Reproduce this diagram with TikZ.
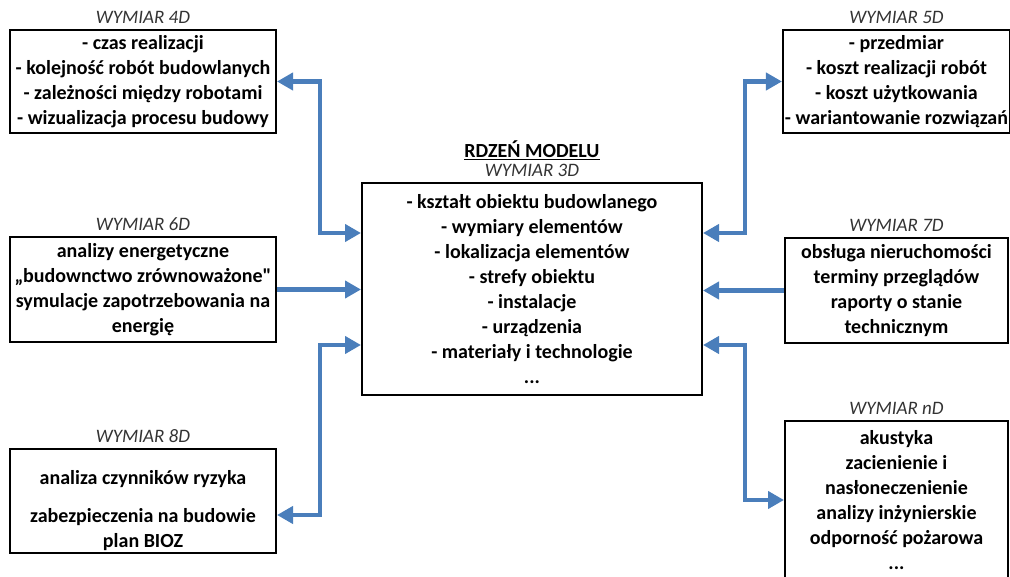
\documentclass[tikz,border=0pt]{standalone}
\usepackage{fontspec}
\setmainfont{Carlito}
\newfontfamily\plainquote{Carlito}
\usetikzlibrary{positioning,arrows.meta}
\definecolor{linkblue}{RGB}{74,126,187}
\begin{document}
\begin{tikzpicture}[x=1pt,y=-1pt,node distance=5pt,
                       dim box/.style={draw,line width=2pt,inner sep=2pt,align=center,
                         font=\fontsize{20}{25}\selectfont\bfseries},
                       dim title/.style={inner sep=0pt,text height=13pt,text depth=0pt,
                         text=black!80,font=\fontsize{19}{23}\selectfont\itshape},
                       link/.style={linkblue,line width=4.5pt,-{Triangle[length=16pt,width=17pt]}},
                       both link/.style={link,{Triangle[length=16pt,width=17pt]}-{Triangle[length=16pt,width=17pt]}}
                      ]
  \useasboundingbox (0,0) rectangle (1010,577);
  \clip (0,0) rectangle (1010,577);
  \node[dim box,minimum width=340pt,minimum height=212pt] (core) at (532,289)
    {- kształt obiektu budowlanego\\- wymiary elementów\\- lokalizacja elementów\\- strefy obiektu\\
     - instalacje\\- urządzenia\\- materiały i technologie\\...};
  \node[dim box,minimum width=266pt,minimum height=103pt] (d4) at (143,81.5)
    {- czas realizacji\\- kolejność robót budowlanych\\- zależności między robotami\\- wizualizacja procesu budowy};
  \node[dim box,minimum width=223pt,minimum height=103pt] (d5) at (896.5,81.5)
    {- przedmiar\\- koszt realizacji robót\\- koszt użytkowania\\- wariantowanie rozwiązań};
  \node[dim box,minimum width=266pt,minimum height=105pt] (d6) at (143,289.5)
    {analizy energetyczne\\„budownctwo zrównoważone{\plainquote"}\\symulacje zapotrzebowania na\\energię};
  \node[dim box,minimum width=223pt,minimum height=105pt] (d7) at (896.5,290.5)
    {obsługa nieruchomości\\terminy przeglądów\\raporty o stanie\\technicznym};
  \node[dim box,minimum width=266pt,minimum height=104pt] (d8) at (143,501)
    {\rule{0pt}{34pt}analiza czynników ryzyka\\[13pt]zabezpieczenia na budowie\\plan BIOZ};
  \node[dim box,minimum width=223pt,minimum height=158pt] (dn) at (896.5,500)
    {akustyka\\zacienienie i\\nasłoneczenienie\\analizy inżynierskie\\odporność pożarowa\\...};
  \node[dim title,above=of core] (t3) {WYMIAR 3D};
  \node[inner sep=0pt,above=4pt of t3,font=\fontsize{20}{24}\selectfont\bfseries] (head) {\underline{RDZEŃ MODELU}};
  \node[dim title,above=of d4] (t4) {WYMIAR 4D};
  \node[dim title,above=of d5] (t5) {WYMIAR 5D};
  \node[dim title,above=of d6] (t6) {WYMIAR 6D};
  \node[dim title,above=of d7] (t7) {WYMIAR 7D};
  \node[dim title,above=of d8] (t8) {WYMIAR 8D};
  \node[dim title,above=of dn] (tn) {WYMIAR nD};
  \coordinate (lbus) at (320,0);
  \coordinate (rbus) at (745,0);
  \draw[both link] ([yshift=56pt]core.west) -- ([yshift=56pt]core.west -| lbus) |- (d4.east);
  \draw[link] (d6.east) -- (d6.east -| core.west);
  \draw[both link] ([yshift=-56pt]core.west) -- ([yshift=-56pt]core.west -| lbus) |- ([yshift=-14pt]d8.east);
  \draw[both link] ([yshift=56pt]core.east) -- ([yshift=56pt]core.east -| rbus) |- (d5.west);
  \draw[link] (d7.west) -- (d7.west -| core.east);
  \draw[both link] ([yshift=-56pt]core.east) -- ([yshift=-56pt]core.east -| rbus) |- (dn.west);
\end{tikzpicture}
\end{document}
